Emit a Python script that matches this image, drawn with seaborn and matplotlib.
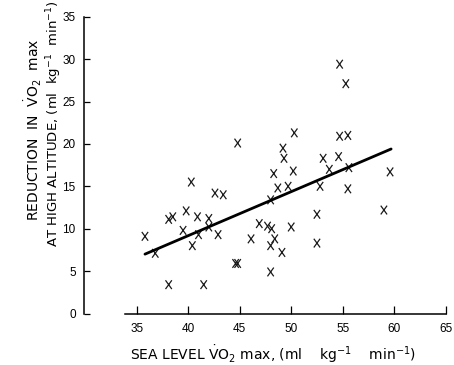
import matplotlib
matplotlib.use("Agg")
import matplotlib.pyplot as plt
from matplotlib.path import Path
import numpy as np
import pandas as pd
import seaborn as sns

# Data
sea_level_vo2 = [35.8, 36.8, 38.1, 38.1, 38.5, 39.8, 40.3, 39.5, 40.4, 40.9,
                 41.0, 41.5, 42.0, 42.0, 42.9, 42.6, 43.4, 44.6, 44.8, 44.8,
                 46.1, 46.9, 47.7, 48.1, 48.4, 48.0, 49.1, 48.0, 48.0, 48.3,
                 48.7, 49.2, 49.3, 50.2, 49.7, 50.0, 50.3, 52.5, 52.5, 52.8,
                 53.1, 54.6, 53.7, 55.6, 55.5, 59.6, 59.0, 54.7, 55.3, 54.7,
                 55.5]
reduction_vo2 = [9.1, 7.1, 3.4, 11.1, 11.4, 12.1, 15.5, 9.8, 8.0, 11.4,
                 9.3, 3.4, 11.2, 10.2, 9.3, 14.2, 14.0, 5.9, 5.9, 20.1,
                 8.8, 10.6, 10.3, 10.0, 8.8, 8.0, 7.2, 4.9, 13.4, 16.5,
                 14.8, 19.5, 18.3, 16.8, 15.0, 10.2, 21.3, 11.7, 8.3, 15.0,
                 18.3, 18.5, 17.0, 17.2, 14.7, 16.7, 12.2, 29.4, 27.1, 20.9,
                 21.0]
fit_x = [35.8, 59.7]
fit_y = [7.0, 19.4]
x_ticks = [35, 40, 45, 50, 55, 60, 65]
y_ticks = [0, 5, 10, 15, 20, 25, 30, 35]

sns.set_style("ticks")
plt.rcParams['font.family'] = ['Liberation Sans', 'DejaVu Sans']
plt.rcParams['mathtext.fontset'] = 'dejavusans'
plt.rcParams['text.color'] = 'black'

df = pd.DataFrame({"sea": sea_level_vo2, "red": reduction_vo2})
fit = pd.DataFrame({"x": fit_x, "y": fit_y})

# letter-like "X" marker (taller than wide)
x_marker = Path([(-0.72, -1.0), (0.72, 1.0), (-0.72, 1.0), (0.72, -1.0)],
                [Path.MOVETO, Path.LINETO, Path.MOVETO, Path.LINETO])

fig = plt.figure(figsize=(4.54, 3.65), dpi=100)
ax = fig.add_axes([84 / 454, 1 - 313.5 / 365, 361.7 / 454, 296.8 / 365])

sns.scatterplot(data=df, x="sea", y="red", marker=x_marker,
                color="#1a1a1a", edgecolor="#1a1a1a", facecolor="none",
                s=40, linewidth=0.9, ax=ax, zorder=3)
sns.lineplot(data=fit, x="x", y="y", color="black", linewidth=2.0, ax=ax,
             zorder=4)

ax.set_xlim(29.88, 65.0)
ax.set_ylim(0, 35)
ax.set_xticks(x_ticks)
ax.set_yticks(y_ticks)
ax.set_xticklabels([str(t) for t in x_ticks])
ax.set_yticklabels([str(t) for t in y_ticks])
ax.tick_params(axis="x", direction="in", length=6, width=0.9, pad=7,
               labelsize=8.5, colors="black")
ax.tick_params(axis="y", direction="in", length=4, width=0.9, pad=6,
               labelsize=8.5, colors="black")

for s in ["top", "right"]:
    ax.spines[s].set_visible(False)
ax.spines["left"].set_linewidth(1.1)
ax.spines["bottom"].set_linewidth(1.1)
ax.spines["bottom"].set_bounds(33.9, 65.0)
ax.spines["left"].set_color("black")
ax.spines["bottom"].set_color("black")

ax.set_xlabel("")
ax.set_ylabel("")

lab_font = ['DejaVu Sans']
fig.text(273 / 454, 1 - 354 / 365,
         r"SEA LEVEL $\dot{\mathrm{V}}\mathrm{O}_2$ max, (ml    kg$^{-1}$    min$^{-1}$)",
         ha="center", va="center", fontsize=10, family=lab_font, color="black")
fig.text(33 / 454, 1 - 130 / 365,
         r"REDUCTION  IN  $\dot{\mathrm{V}}\mathrm{O}_2$  max",
         ha="center", va="center", rotation=90, fontsize=10, family=lab_font,
         color="black")
fig.text(54 / 454, 1 - 124 / 365,
         r"AT HIGH ALTITUDE, (ml  kg$^{-1}$  min$^{-1}$)",
         ha="center", va="center", rotation=90, fontsize=9.5, family=lab_font,
         color="black")

fig.savefig("out.png", dpi=100)
